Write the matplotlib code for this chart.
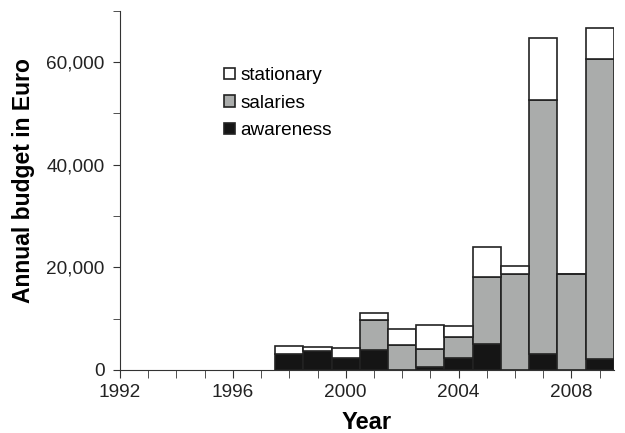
import matplotlib
matplotlib.use("Agg")
import matplotlib.pyplot as plt
from matplotlib.ticker import FuncFormatter, MultipleLocator

plt.rcParams['font.family'] = ['Liberation Sans', 'DejaVu Sans']

years = [1998, 1999, 2000, 2001, 2002, 2003, 2004, 2005, 2006, 2007, 2008, 2009]
awareness = [3000, 3600, 2300, 3800, 0, 500, 2300, 5000, 0, 3000, 0, 2200]
salaries = [0, 0, 0, 5900, 4800, 3600, 4100, 13000, 18600, 49700, 18600, 58500]
stationary = [1600, 900, 2000, 1400, 3100, 4700, 2150, 6000, 1600, 12000, 0, 5900]

fig = plt.figure(figsize=(6.25, 4.33), dpi=100)
ax = fig.add_axes([0.192, 0.146, 0.79, 0.829])

edge = '#222222'
ax.bar(years, awareness, width=1.0, color='#151515', edgecolor=edge, linewidth=1.2,
       label='awareness')
ax.bar(years, salaries, width=1.0, bottom=awareness, color='#aaacab', edgecolor=edge,
       linewidth=1.2, label='salaries')
base = [a + s for a, s in zip(awareness, salaries)]
ax.bar(years, stationary, width=1.0, bottom=base, color='white', edgecolor=edge,
       linewidth=1.2, label='stationary')

ax.set_xlim(1992, 2009.5)
ax.set_ylim(0, 70000)
ax.spines['top'].set_visible(False)
ax.spines['right'].set_visible(False)
for s in ['left', 'bottom']:
    ax.spines[s].set_color('#333333')

ax.xaxis.set_major_locator(MultipleLocator(4))
ax.xaxis.set_minor_locator(MultipleLocator(1))
ax.yaxis.set_major_locator(MultipleLocator(20000))
ax.yaxis.set_minor_locator(MultipleLocator(10000))
ax.yaxis.set_major_formatter(FuncFormatter(lambda v, p: f"{int(v):,}"))
ax.tick_params(which='both', direction='out', color='#333333', labelsize=13.7,
               labelcolor='#222222')
ax.tick_params(axis='x', which='both', length=6, pad=4.5)
ax.tick_params(axis='y', which='both', length=5, pad=6)

ax.set_xlabel('Year', fontsize=17, fontweight='bold', labelpad=7)
ax.set_ylabel('Annual budget in Euro', fontsize=16.5, fontweight='bold')
ax.yaxis.set_label_coords(-0.172, 0.526)

h, l = ax.get_legend_handles_labels()
ax.legend(h[::-1], l[::-1], loc='upper left', bbox_to_anchor=(0.196, 0.864),
          frameon=False, fontsize=13.7, handlelength=0.55, handleheight=0.55,
          handletextpad=0.3, labelspacing=0.55, borderaxespad=0)

fig.savefig('out.png', dpi=100)
